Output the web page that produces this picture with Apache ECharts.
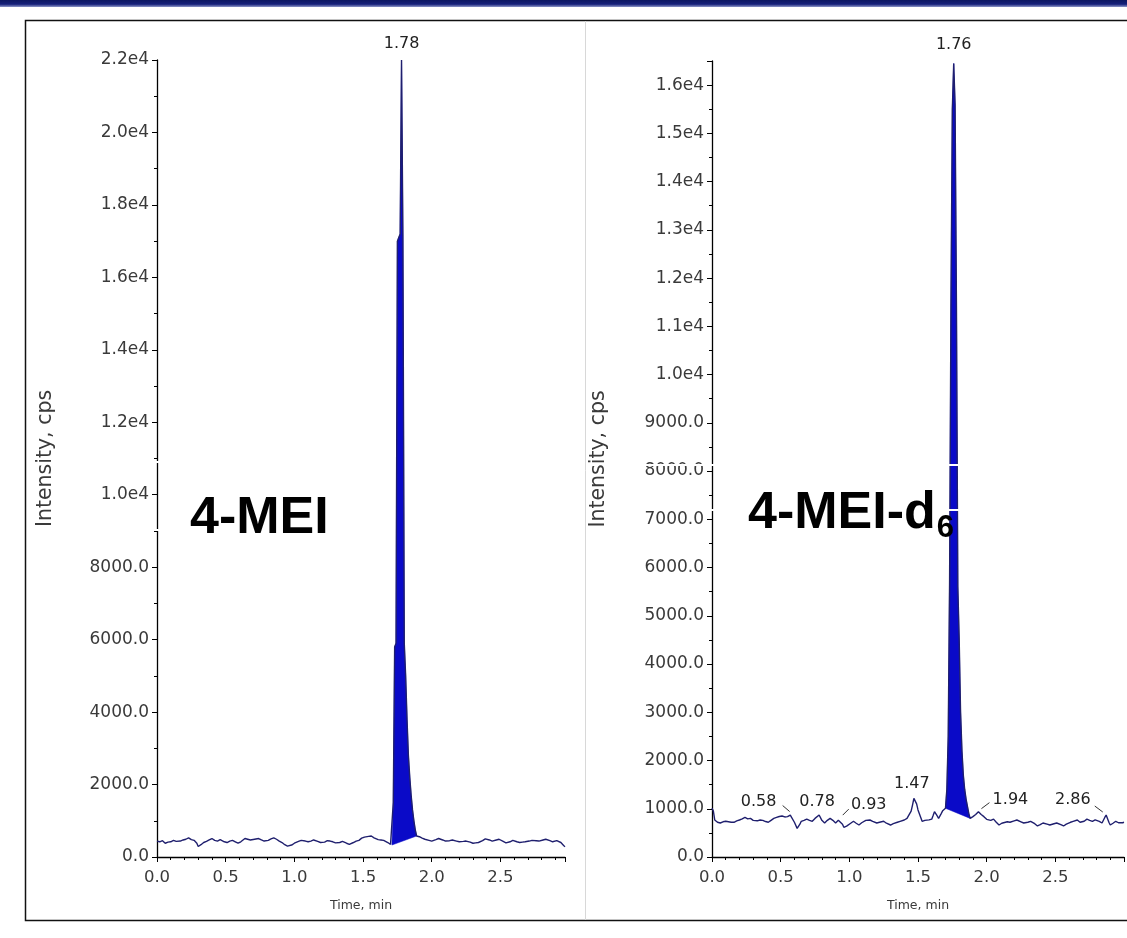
<!DOCTYPE html>
<html>
<head>
<meta charset="utf-8">
<script src="https://cdn.jsdelivr.net/npm/echarts@6/dist/echarts.min.js"></script>
<style>
html,body{margin:0;padding:0;background:#fff;}
#chart{width:1127px;height:938px;}
</style>
</head>
<body>
<div id="chart"></div>
<script>
// ---------- DATA ----------
// Left panel: 4-MEI chromatogram (time, min / intensity, cps)
const leftTimes = [0.00,0.02,0.04,0.06,0.08,0.10,0.12,0.14,0.17,0.19,0.21,0.23,0.25,0.27,0.29,0.30,0.32,0.34,0.36,0.38,0.40,0.42,0.44,0.46,0.47,0.49,0.51,0.53,0.55,0.57,0.59,0.61,0.62,0.64,0.66,0.68,0.69,0.71,0.72,0.74,0.76,0.78,0.79,0.81,0.83,0.85,0.87,0.89,0.91,0.93,0.95,0.96,0.98,1.00,1.01,1.03,1.05,1.06,1.08,1.10,1.12,1.14,1.15,1.17,1.19,1.20,1.22,1.24,1.26,1.28,1.30,1.31,1.33,1.35,1.36,1.38,1.40,1.41,1.43,1.45,1.47,1.49,1.51,1.52,1.54,1.56,1.58,1.59,1.61,1.63,1.65,1.66,1.68,1.70,
  1.71,1.72,1.73,1.74,1.75,1.76,1.77,1.78,1.79,1.80,1.81,1.82,1.83,1.84,1.85,1.86,1.87,1.88,1.89,
  1.91,1.93,1.95,1.96,1.98,2.00,2.01,2.03,2.05,2.06,2.08,2.10,2.11,2.13,2.15,2.16,2.18,2.20,2.21,2.23,2.25,2.26,2.28,2.30,2.32,2.34,2.35,2.37,2.39,2.40,2.42,2.44,2.45,2.47,2.49,2.50,2.52,2.54,2.55,2.57,2.59,2.60,2.62,2.64,2.66,2.68,2.69,2.71,2.73,2.74,2.76,2.78,2.79,2.81,2.83,2.84,2.86,2.88,2.89,2.91,2.92,2.94,2.96,2.97];
const leftValues = [440,420,450,380,410,420,460,430,440,470,490,530,480,460,380,290,340,400,430,470,510,460,440,480,470,420,400,440,460,420,380,420,470,510,490,470,460,490,480,510,470,440,420,460,500,530,490,440,400,340,300,285,330,380,390,430,460,460,440,420,440,470,460,430,400,380,410,450,440,420,390,380,400,430,420,380,350,350,400,440,460,520,550,560,570,580,530,490,480,470,460,460,400,350,
  330,1500,5800,5900,17000,17100,17200,22000,17100,5900,5000,3800,2800,2200,1700,1300,1000,750,580,
  560,520,490,490,460,440,440,480,510,510,470,440,440,450,470,460,440,420,420,430,440,440,410,380,390,400,400,450,500,510,470,440,440,470,490,490,430,390,380,420,460,460,420,400,410,420,420,440,460,460,450,440,440,470,490,490,450,420,420,450,460,400,320,285];
// integrated peak (filled) of the left panel
const leftPeakTimes = [1.71,1.72,1.73,1.74,1.75,1.76,1.77,1.78,1.79,1.80,1.81,1.82,1.83,1.84,1.85,1.86,1.87,1.88,1.89];
const leftPeakValues = [330,1500,5800,5900,17000,17100,17200,22000,17100,5900,5000,3800,2800,2200,1700,1300,1000,750,580];
const leftLabelTimes = [1.78];
const leftLabelValues = [22000];

// Right panel: 4-MEI-d6 chromatogram
const rightTimes = [0.00,0.01,0.02,0.04,0.06,0.08,0.10,0.12,0.14,0.16,0.18,0.20,0.22,0.24,0.26,0.28,0.30,0.31,0.33,0.35,0.37,0.39,0.41,0.43,0.45,0.47,0.49,0.51,0.53,0.55,0.57,0.58,0.60,0.62,0.64,0.65,0.67,0.69,0.71,0.73,0.75,0.76,0.78,0.80,0.82,0.84,0.86,0.88,0.90,0.92,0.93,0.95,0.96,0.98,0.99,1.01,1.03,1.05,1.07,1.09,1.10,1.12,1.15,1.17,1.20,1.22,1.25,1.27,1.30,1.32,1.35,1.37,1.40,1.42,1.43,1.45,1.46,1.47,1.49,1.50,1.52,1.53,1.55,1.56,1.58,1.60,1.61,1.62,1.64,1.65,1.67,1.68,
  1.70,1.71,1.72,1.73,1.74,1.75,1.76,1.77,1.78,1.79,1.80,1.81,1.82,1.83,1.84,1.85,1.86,1.87,1.88,
  1.90,1.92,1.94,1.96,1.98,2.00,2.01,2.03,2.05,2.07,2.09,2.11,2.12,2.15,2.17,2.20,2.22,2.25,2.27,2.30,2.32,2.35,2.37,2.39,2.41,2.44,2.46,2.49,2.51,2.54,2.56,2.58,2.61,2.63,2.66,2.68,2.69,2.71,2.73,2.75,2.77,2.79,2.80,2.82,2.84,2.86,2.87,2.89,2.90,2.92,2.94,2.96,2.97,2.99,3.00];
const rightValues = [1010,950,767,720,705,730,740,730,720,720,750,767,790,820,790,800,760,740,750,767,760,735,720,760,800,820,840,850,830,836,870,880,720,594,680,740,760,785,760,740,800,836,870,760,705,760,800,760,705,760,785,680,615,640,663,700,740,700,663,710,740,760,767,740,705,720,740,700,663,690,720,740,767,800,836,950,1077,1216,1100,975,820,740,760,767,770,785,860,940,850,800,905,960,
  1010,1400,2500,5700,11500,15500,16450,15600,11400,5600,4500,3000,2200,1700,1400,1200,1050,900,800,
  836,880,940,880,836,780,740,760,785,720,663,700,740,730,720,750,767,730,705,720,740,690,643,670,705,680,663,690,705,670,643,680,720,740,767,720,684,740,785,760,740,770,785,740,705,820,870,720,663,700,740,710,684,710,720];
const rightPeakTimes = [1.70,1.71,1.72,1.73,1.74,1.75,1.76,1.77,1.78,1.79,1.80,1.81,1.82,1.83,1.84,1.85,1.86,1.87,1.88];
const rightPeakValues = [1010,1400,2500,5700,11500,15500,16450,15600,11400,5600,4500,3000,2200,1700,1400,1200,1050,900,800];
const rightLabelTimes = [0.58,0.78,0.93,1.47,1.76,1.94,2.86];
const rightLabelValues = [880,870,785,1216,16450,940,870];

const xTickLabels = ['0.0','0.5','1.0','1.5','2.0','2.5'];
const panelTitles = ['4-MEI','4-MEI-d'];
const panelTitleSub = '6';
const axisNameY = 'Intensity, cps';
const axisNameX = 'Time, min';

// ---------- LAYOUT / STYLE ----------
// label offsets (pixels, relative to the peak apex) and leader lines
const leftLabelLayout = [{dx:0, dy:-16}];
const rightLabelLayout = [
  {dx:-33, dy:-13, leader:[-9,-9,-2,-3]},
  {dx:-2,  dy:-13},
  {dx:29,  dy:-14, leader:[3,-4,9,-10]},
  {dx:-2,  dy:-14},
  {dx:0,   dy:-19},
  {dx:32,  dy:-12, leader:[3,-3,11,-9]},
  {dx:-32, dy:-15, leader:[-10,-9,-2,-3]}
];

const FONT = '"DejaVu Sans", Verdana, sans-serif';
const TITLE_FONT = '"Liberation Sans", Arial, sans-serif';
const LINE_COLOR = '#1f1f6e';
const FILL_COLOR = '#0a0ac8';
const TEXT_COLOR = '#3a3a3a';

const pairs = (ts, vs) => ts.map((t, i) => [t, vs[i]]);

function xFormatter(v) {
  const k = v / 0.5;
  if (Math.abs(k - Math.round(k)) > 1e-6) return '';
  return xTickLabels[Math.round(k)] || '';
}
function yFormatter(v) {
  if (Math.abs(v % 1000) > 1e-6) return '';
  return v < 10000 ? v.toFixed(1) : (v / 1e4).toFixed(1) + 'e4';
}

function makeXAxis(idx, max) {
  return {
    type: 'value', gridIndex: idx, min: 0, max: max, interval: 0.5,
    name: axisNameX, nameLocation: 'middle', nameGap: 42,
    nameTextStyle: {fontFamily: FONT, fontSize: 12.5, color: TEXT_COLOR},
    axisLine: {show: true, lineStyle: {color: '#000', width: 1.3}},
    axisTick: {show: true, length: 5, lineStyle: {color: '#000'}},
    minorTick: {show: true, splitNumber: 5, length: 3, lineStyle: {color: '#000'}},
    axisLabel: {formatter: xFormatter, fontFamily: FONT, fontSize: 16.5, color: TEXT_COLOR, margin: 12, showMaxLabel: true},
    splitLine: {show: false}
  };
}
function makeYAxis(idx, max, interval, gap) {
  return {
    type: 'value', gridIndex: idx, min: 0, max: max, interval: interval,
    name: axisNameY, nameLocation: 'middle', nameGap: gap,
    nameTextStyle: {fontFamily: FONT, fontSize: 20.5, color: TEXT_COLOR},
    axisLine: {show: true, lineStyle: {color: '#000', width: 1.3}},
    axisTick: {show: true, length: 5, lineStyle: {color: '#000'}},
    minorTick: {show: true, splitNumber: 2, length: 3, lineStyle: {color: '#000'}},
    axisLabel: {formatter: yFormatter, fontFamily: FONT, fontSize: 17, color: TEXT_COLOR, margin: 8},
    splitLine: {show: false}
  };
}

function peakFill(idx, ts, vs) {
  return {
    type: 'custom', xAxisIndex: idx, yAxisIndex: idx, z: 2, silent: true, clip: true,
    data: [[ts[0], vs[0]]],
    encode: {x: 0, y: 1},
    renderItem: function (params, api) {
      const pts = ts.map((t, i) => api.coord([t, vs[i]]));
      return {type: 'polygon', shape: {points: pts}, style: {fill: FILL_COLOR, stroke: FILL_COLOR, lineWidth: 0.5}};
    }
  };
}

function peakLabels(idx, ts, vs, layout) {
  return {
    type: 'custom', xAxisIndex: idx, yAxisIndex: idx, z: 5, silent: true, clip: false,
    data: ts.map((t, i) => [t, vs[i], i]),
    encode: {x: 0, y: 1},
    renderItem: function (params, api) {
      const p = api.coord([api.value(0), api.value(1)]);
      const L = layout[api.value(2)];
      const children = [{
        type: 'text', x: p[0] + L.dx, y: p[1] + L.dy,
        style: {text: api.value(0).toFixed(2), fill: '#222', font: '16px ' + FONT,
          align: 'center', verticalAlign: 'middle', textAlign: 'center', textVerticalAlign: 'middle'}
      }];
      if (L.leader) {
        children.push({type: 'line', shape: {x1: p[0] + L.leader[0], y1: p[1] + L.leader[1], x2: p[0] + L.leader[2], y2: p[1] + L.leader[3]},
          style: {stroke: '#333', lineWidth: 1}});
      }
      return {type: 'group', children: children};
    }
  };
}

function trace(idx, ts, vs) {
  return {
    type: 'line', xAxisIndex: idx, yAxisIndex: idx, z: 3, silent: true,
    data: pairs(ts, vs), showSymbol: false, symbol: 'none',
    lineStyle: {color: LINE_COLOR, width: 1.4}, animation: false
  };
}

function whiteLine(x1, x2, y) {
  return {type: 'line', z: 100, silent: true, shape: {x1: x1, y1: y, x2: x2, y2: y},
    style: {stroke: '#fff', lineWidth: 2}};
}

const chart = echarts.init(document.getElementById('chart'), null, {renderer: 'canvas'});
chart.setOption({
  animation: false,
  backgroundColor: '#fff',
  grid: [
    {left: 157, top: 60, width: 408, height: 797},
    {left: 712, top: 61, width: 412, height: 796}
  ],
  xAxis: [makeXAxis(0, 2.97), makeXAxis(1, 3.0)],
  yAxis: [makeYAxis(0, 22000, 2000, 101), makeYAxis(1, 16500, 1000, 103)],
  series: [
    peakFill(0, leftPeakTimes, leftPeakValues),
    trace(0, leftTimes, leftValues),
    peakLabels(0, leftLabelTimes, leftLabelValues, leftLabelLayout),
    peakFill(1, rightPeakTimes, rightPeakValues),
    trace(1, rightTimes, rightValues),
    peakLabels(1, rightLabelTimes, rightLabelValues, rightLabelLayout)
  ],
  graphic: [
    {type: 'rect', z: 100, silent: true, shape: {x: 0, y: 0, width: 1127, height: 7},
      style: {fill: new echarts.graphic.LinearGradient(0, 0, 0, 1, [
        {offset: 0, color: '#0c1660'}, {offset: 0.6, color: '#16207a'}, {offset: 1, color: '#8c95c8'}])}},
    {type: 'rect', z: 100, silent: true, shape: {x: 25.5, y: 20.5, width: 1200, height: 900},
      style: {fill: 'none', stroke: '#111', lineWidth: 1.5}},
    {type: 'line', z: 100, silent: true, shape: {x1: 585.5, y1: 21, x2: 585.5, y2: 920},
      style: {stroke: '#d8d8d8', lineWidth: 1}},
    // white box edges around the panel titles
    whiteLine(150, 345, 462), whiteLine(150, 345, 530),
    whiteLine(620, 970, 465), whiteLine(620, 970, 510),
    {type: 'text', z: 101, silent: true, x: 190, y: 519,
      style: {text: panelTitles[0], font: 'bold 52px ' + TITLE_FONT, fill: '#000',
        align: 'left', verticalAlign: 'middle', textAlign: 'left', textVerticalAlign: 'middle'}},
    {type: 'text', z: 101, silent: true, x: 748, y: 514,
      style: {text: '{a|' + panelTitles[1] + '}{b|' + panelTitleSub + '}',
        align: 'left', verticalAlign: 'middle', textAlign: 'left', textVerticalAlign: 'middle',
        rich: {
          a: {font: 'bold 52px ' + TITLE_FONT, fill: '#000'},
          b: {font: 'bold 31px ' + TITLE_FONT, fill: '#000', padding: [28, 0, 0, 1]}
        }}}
  ]
});
</script>
</body>
</html>
